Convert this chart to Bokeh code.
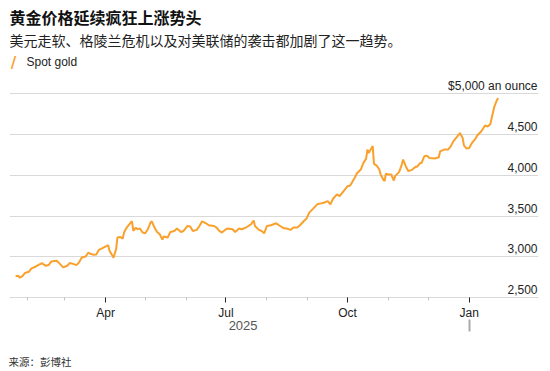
from datetime import datetime
import pandas as pd
from bokeh.plotting import figure
from bokeh.models import (Range1d, FixedTicker, Grid, DatetimeAxis,
                          DatetimeTickFormatter, Label, ColumnDataSource)
from bokeh.core.properties import value
from bokeh.embed import file_html
from bokeh.resources import INLINE

# ---------------- texts ----------------
TITLE = "黄金价格延续疯狂上涨势头"
SUBTITLE = "美元走软、格陵兰危机以及对美联储的袭击都加剧了这一趋势。"
SERIES_NAME = "Spot gold"
SOURCE = "来源：彭博社"

# ---------------- data ----------------
DATES = [
    "2025-01-23", "2025-01-25", "2025-01-26", "2025-01-28", "2025-01-30",
    "2025-02-02", "2025-02-04", "2025-02-07", "2025-02-09", "2025-02-12", "2025-02-13",
    "2025-02-15", "2025-02-17", "2025-02-19", "2025-02-23", "2025-02-24", "2025-02-28",
    "2025-03-03", "2025-03-05", "2025-03-08", "2025-03-10", "2025-03-12", "2025-03-14",
    "2025-03-17", "2025-03-19", "2025-03-20", "2025-03-23", "2025-03-25", "2025-03-27",
    "2025-03-30", "2025-04-02",
    "2025-04-03", "2025-04-04", "2025-04-06", "2025-04-07", "2025-04-09", "2025-04-10",
    "2025-04-12", "2025-04-14", "2025-04-15", "2025-04-17", "2025-04-20", "2025-04-21",
    "2025-04-22", "2025-04-24", "2025-04-25", "2025-04-27", "2025-04-29",
    "2025-05-01", "2025-05-03", "2025-05-05", "2025-05-06", "2025-05-08", "2025-05-10",
    "2025-05-12", "2025-05-14", "2025-05-15", "2025-05-18", "2025-05-20", "2025-05-23",
    "2025-05-25", "2025-05-28", "2025-05-30",
    "2025-06-02", "2025-06-04", "2025-06-06", "2025-06-09", "2025-06-11", "2025-06-13",
    "2025-06-16", "2025-06-18", "2025-06-22", "2025-06-24", "2025-06-26", "2025-06-28",
    "2025-07-01", "2025-07-02", "2025-07-06", "2025-07-08", "2025-07-11", "2025-07-13",
    "2025-07-16", "2025-07-18", "2025-07-20", "2025-07-22", "2025-07-23", "2025-07-26",
    "2025-07-28", "2025-07-30",
    "2025-08-01", "2025-08-04", "2025-08-08", "2025-08-11", "2025-08-14", "2025-08-16",
    "2025-08-19", "2025-08-21", "2025-08-24", "2025-08-26", "2025-08-29", "2025-08-31",
    "2025-09-02", "2025-09-05", "2025-09-08", "2025-09-11", "2025-09-13", "2025-09-16",
    "2025-09-18", "2025-09-20", "2025-09-23", "2025-09-25", "2025-09-28",
    "2025-10-01", "2025-10-03", "2025-10-06", "2025-10-08", "2025-10-11", "2025-10-13",
    "2025-10-15", "2025-10-16", "2025-10-17", "2025-10-20", "2025-10-21", "2025-10-23",
    "2025-10-25", "2025-10-26", "2025-10-28", "2025-10-29", "2025-10-30",
    "2025-11-01", "2025-11-03", "2025-11-05", "2025-11-06", "2025-11-09", "2025-11-11",
    "2025-11-12", "2025-11-14", "2025-11-16", "2025-11-19", "2025-11-21", "2025-11-23",
    "2025-11-25", "2025-11-26", "2025-11-28", "2025-11-30",
    "2025-12-02", "2025-12-06", "2025-12-09", "2025-12-10", "2025-12-13", "2025-12-16",
    "2025-12-18", "2025-12-20", "2025-12-23", "2025-12-25", "2025-12-27", "2025-12-28",
    "2025-12-30",
    "2026-01-01", "2026-01-03", "2026-01-06", "2026-01-07", "2026-01-10", "2026-01-12",
    "2026-01-13", "2026-01-15", "2026-01-17", "2026-01-18", "2026-01-20", "2026-01-22",
    "2026-01-23",
]
PRICES = [
    2760, 2768, 2743, 2760, 2800,
    2816, 2858, 2878, 2898, 2923, 2907, 2890, 2898, 2943, 2950, 2938, 2870,
    2890, 2923, 2910, 2898, 2931, 2992, 3004, 3053, 3041, 3024, 3029, 3085, 3110,
    3134,
    3143, 3073, 3020, 2988, 3094, 3237, 3244, 3224, 3298, 3359, 3420, 3436,
    3317, 3359, 3338, 3347, 3298,
    3289, 3338, 3420, 3436, 3359, 3305, 3277, 3210, 3249, 3237, 3305, 3317,
    3347, 3305, 3317,
    3378, 3371, 3317, 3330, 3378, 3436, 3411, 3387, 3378, 3359, 3317, 3298,
    3338, 3347, 3338, 3305, 3347, 3338, 3359, 3378, 3399, 3445, 3378, 3330,
    3317, 3289,
    3378, 3387, 3411, 3378, 3350, 3347, 3330, 3359, 3359, 3387, 3440, 3469,
    3542, 3591, 3644, 3656, 3664, 3684, 3644, 3713, 3766, 3745, 3806,
    3867, 3876, 3957, 4022, 4071, 4153, 4202, 4316, 4275, 4360, 4140, 4120,
    4071, 4010, 3949, 3929, 4019,
    4010, 4010, 3937, 3990, 4043, 4132, 4193, 4112, 4051, 4071, 4099, 4112,
    4153, 4153, 4234, 4242,
    4214, 4206, 4222, 4295, 4316, 4316, 4356, 4417, 4478, 4519, 4458, 4368,
    4328,
    4336, 4397, 4458, 4490, 4539, 4588, 4613, 4600, 4630, 4703, 4845, 4927,
    4947,
]

Y_TICKS = [2500, 3000, 3500, 4000, 4500, 5000]
Y_TICK_LABELS = ["2,500", "3,000", "3,500", "4,000", "4,500", "$5,000 an ounce"]
X_MAJOR = ["2025-04-01", "2025-07-01", "2025-10-01", "2026-01-01"]
X_MINOR = ["2025-02-01", "2025-03-01", "2025-05-01", "2025-06-01",
           "2025-08-01", "2025-09-01", "2025-11-01", "2025-12-01"]
YEAR_LABEL_AT = ["2025-07-14"]     # "2025" label, centred under the 2025 span
YEAR_BREAK = ["2026-01-01"]        # separator mark under Jan

X_START = datetime(2025, 1, 18, 9)
X_END = datetime(2026, 2, 22, 9)
# y range reaches up to the top of the canvas so the header sits in the frame
Y_MIN, Y_MAX = 2500, 6147

ORANGE = "#f9a12c"
GRID = "#d9d9d9"
LATIN = "Liberation Sans"
CJK = "Noto Sans CJK SC"


def ms(d):
    return int(pd.Timestamp(d).value // 1_000_000)


src = ColumnDataSource(data=dict(date=pd.to_datetime(DATES), price=PRICES))

p = figure(width=550, height=371, x_axis_type="datetime", y_axis_location=None,
           x_range=Range1d(X_START, X_END), y_range=Range1d(Y_MIN, Y_MAX),
           output_backend="svg", toolbar_location=None,
           min_border_left=9, min_border_right=12, min_border_top=0,
           min_border_bottom=73)
p.outline_line_color = None
p.background_fill_color = "white"
p.border_fill_color = "white"
p.xgrid.visible = False
p.ygrid.visible = False
p.add_layout(Grid(dimension=1, ticker=FixedTicker(ticks=Y_TICKS),
                  grid_line_color=GRID, grid_line_width=1))

# x axis: quarter labels with monthly minor ticks
xa = p.xaxis[0]
xa.ticker = FixedTicker(ticks=[ms(d) for d in X_MAJOR],
                        minor_ticks=[ms(d) for d in X_MINOR])
xa.formatter = DatetimeTickFormatter(days="%b", months="%b", years="%b")
xa.axis_line_color = GRID
xa.major_tick_line_color = "#222222"
xa.major_tick_in = 0
xa.major_tick_out = 5
xa.minor_tick_line_color = "#c4c4c4"
xa.minor_tick_in = 0
xa.minor_tick_out = 3
xa.major_label_standoff = 3
xa.major_label_text_font = LATIN
xa.major_label_text_font_size = "12px"
xa.major_label_text_color = "#222222"

# second row: year label and the separator under Jan
xa2 = DatetimeAxis(ticker=FixedTicker(ticks=[ms(d) for d in YEAR_LABEL_AT],
                                      minor_ticks=[ms(d) for d in YEAR_BREAK]),
                   formatter=DatetimeTickFormatter(days="%Y", months="%Y", years="%Y"),
                   axis_line_color=None, major_tick_line_color=None,
                   major_tick_in=0, major_tick_out=0,
                   minor_tick_line_color="#aaaaaa", minor_tick_line_width=2,
                   minor_tick_in=3, minor_tick_out=9,
                   major_label_standoff=-11, major_label_text_font=LATIN,
                   major_label_text_font_size="13px",
                   major_label_text_color="#555555")
p.add_layout(xa2, "below")

# third row: source note, set as the label of a tick-less row under the chart
SOURCE_AT = datetime(2025, 2, 10, 10)
xa3 = DatetimeAxis(ticker=FixedTicker(ticks=[ms(SOURCE_AT)], minor_ticks=[]),
                   major_label_overrides={ms(SOURCE_AT): SOURCE},
                   axis_line_color=None, major_tick_line_color=None,
                   minor_tick_line_color=None, major_tick_in=0, major_tick_out=0,
                   minor_tick_in=0, minor_tick_out=0,
                   major_label_standoff=21, major_label_text_font=CJK,
                   major_label_text_font_size="10.5px",
                   major_label_text_color="#333333")
p.add_layout(xa3, "below")

# series line
p.line(x="date", y="price", source=src, line_color=ORANGE, line_width=2)

# y tick labels inside plot area, right aligned above gridlines
lab_src = ColumnDataSource(data=dict(x=[X_END] * len(Y_TICKS), y=Y_TICKS, t=Y_TICK_LABELS))
p.text(x="x", y="y", text="t", source=lab_src, text_align="right",
       text_baseline="alphabetic", y_offset=-8, x_offset=-1,
       text_font=value(LATIN), text_font_size="12px", text_color="#222222")

# header (inside the frame, screen units from the frame's bottom-left)
p.add_layout(Label(x=0, y=281, x_units="screen", y_units="screen", text=TITLE,
                   text_font=CJK, text_font_style="bold", text_font_size="16px",
                   text_baseline="middle", text_color="#111111"))
p.add_layout(Label(x=0, y=258, x_units="screen", y_units="screen", text=SUBTITLE,
                   text_font=CJK, text_font_size="14px",
                   text_baseline="middle", text_color="#222222"))
p.add_layout(Label(x=4, y=235, x_units="screen", y_units="screen", text="/",
                   text_font="DejaVu Sans", text_font_style="bold", text_font_size="15px",
                   text_align="center", text_baseline="middle", text_color=ORANGE))
p.add_layout(Label(x=17, y=236, x_units="screen", y_units="screen", text=SERIES_NAME,
                   text_font=LATIN, text_font_size="12px",
                   text_baseline="middle", text_color="#222222"))

open("out.html", "w").write(file_html(p, INLINE))
